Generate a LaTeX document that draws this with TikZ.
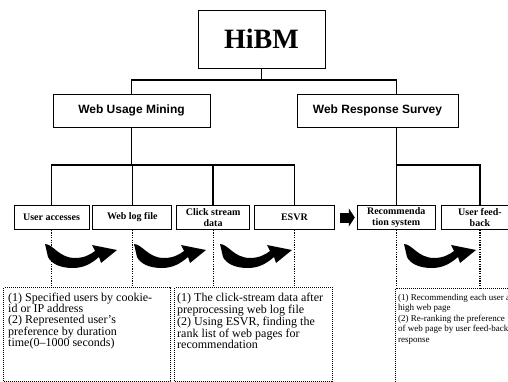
\documentclass[tikz,border=0pt]{standalone}
\usepackage{fontspec}
\setmainfont{Liberation Serif}
\setsansfont{Liberation Sans}
\usetikzlibrary{arrows.meta, positioning}

\begin{document}
\begin{tikzpicture}[
    x=1pt, y=-1pt,
    box/.style={draw, line width=0.8pt, align=center, inner sep=1pt},
    topbox/.style={box, minimum width=127pt, minimum height=58pt, font=\fontsize{28}{28}\selectfont\bfseries},
    midbox/.style={box, minimum height=33pt, font=\sffamily\bfseries\fontsize{12}{13}\selectfont},
    leafbox/.style={box, minimum height=24pt, font=\bfseries\fontsize{10}{10.5}\selectfont},
    notebox/.style={draw, line width=1.1pt, dash pattern=on 1pt off 1pt, minimum height=94pt, anchor=north west},
    notetext/.style={anchor=north west, inner sep=0pt, align=left, font=\fontsize{12}{11}\selectfont},
    tree/.style={line width=1.4pt},
    dots/.style={line width=1.2pt, dash pattern=on 1.2pt off 1.2pt},
    blockarrow/.style={line width=10pt, -{Triangle[length=6pt, width=18pt]}},
    swoosh/.pic={
        \fill (0,0) .. controls (8,0) and (14,14) .. (30,14)
            .. controls (40,14) and (46,10) .. (50,7) -- (47,1) -- (72,6)
            -- (56,19) -- (54,13) .. controls (46,20) and (38,24) .. (28,24)
            .. controls (14,24) and (6,19) .. (3,13) -- cycle;
    }
]
\useasboundingbox (0,0) rectangle (508,382);
\clip (0,0) rectangle (508,382);

% Nodes
\node[topbox] (hibm) at (261.5,39) {HiBM};
\node[midbox, minimum width=157pt] (wum) at (131.5,110.5) {Web Usage Mining};
\node[midbox, minimum width=161pt] (wrs) at (377.5,110.5) {Web Response Survey};

\node[leafbox, minimum width=75pt] (ua) at (51.5,217.5) {User accesses};
\node[leafbox, minimum width=79pt, right=3pt of ua] (wlf) {Web log file};
\node[leafbox, minimum width=73pt, right=4pt of wlf] (csd) {Click stream\\data};
\node[leafbox, minimum width=80pt, right=4pt of csd] (esvr) {ESVR};
\node[leafbox, minimum width=78pt, right=22pt of esvr] (rec) {Recommenda\\tion system};
\node[leafbox, minimum width=78pt, right=5pt of rec] (ufb) {User feed-\\back};

\node[notebox, minimum width=167pt] (noteA) at (3,287) {};
\node[notebox, minimum width=158pt] (noteB) at (174,287) {};
\node[notebox, minimum width=150pt] (noteC) at (395,288) {};

\node[notetext] (textA) at (8,293) {(1) Specified users by cookie-\\id or IP address\\(2) Represented user's\\preference by duration\\time(0--1000 seconds)};
\node[notetext] (textB) at (177,293) {(1) The click-stream data after\\preprocessing web log file\\(2) Using ESVR, finding the\\rank list of web pages for\\recommendation};
\node[notetext, font=\fontsize{9}{10.5}\selectfont] (textC) at (398,294) {(1) Recommending each user a\\high web page\\(2) Re-ranking  the preference\\of web page by user feed-back\\response};

% Edges
\coordinate (bus1) at (0,80);
\coordinate (bus2) at (0,165);
\draw[tree] (hibm.south) -- (hibm.south |- bus1);
\draw[tree] (wum.north) -- (wum.north |- bus1) -- (bus1 -| rec) -- (wrs.north -| rec);
\draw[tree] (wum.south) -- (wum.south |- bus2);
\draw[tree] (ua.north) -- (ua.north |- bus2) -- (bus2 -| esvr) -- (esvr.north);
\foreach \n in {wlf, csd}
    \draw[tree] (\n.north) -- (\n.north |- bus2);
\draw[tree] (wrs.south -| rec) -- (rec.north);
\draw[tree] (rec.north |- bus2) -| (ufb.north);

\foreach \n/\m in {ua/noteA, wlf/noteA, csd/noteB, esvr/noteB, rec/noteC, ufb/noteC}
    \draw[dots] (\n.south) -- (\n.south |- \m.north);

\draw[blockarrow, shorten <=5pt, shorten >=2pt] (esvr) -- (rec);

% Curved arrows
\foreach \x in {45, 134, 220, 404}
    \pic at (\x,244) {swoosh};

\end{tikzpicture}
\end{document}
